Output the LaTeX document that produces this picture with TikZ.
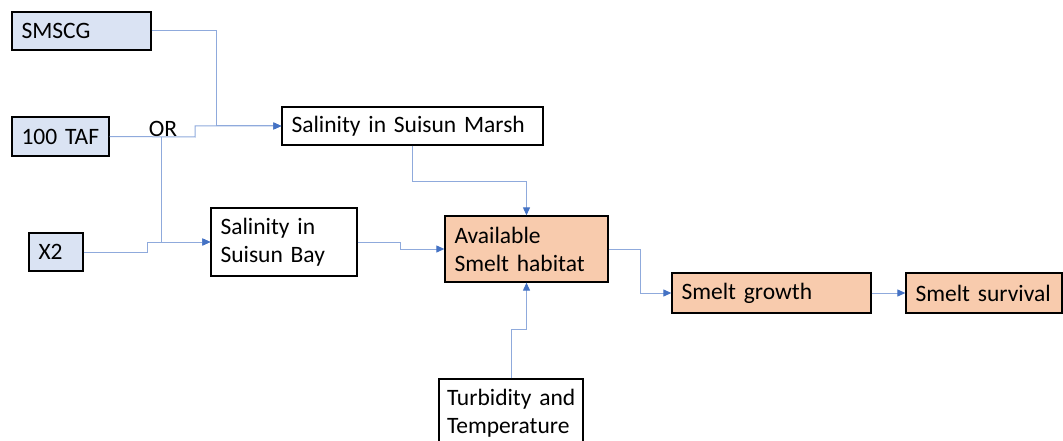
\documentclass[tikz,border=0pt]{standalone}
\usepackage{fontspec}
\setmainfont{Carlito}
\usetikzlibrary{arrows.meta}
\definecolor{bluefill}{HTML}{DAE3F3}
\definecolor{orangefill}{HTML}{F8CBAD}
\definecolor{linkline}{HTML}{8FAADC}
\definecolor{linktip}{HTML}{4472C4}
\tikzset{
  box/.style={draw=black, line width=1.3pt, inner xsep=9.5pt, inner ysep=0pt,
    align=left, font=\fontsize{23.5}{28}\selectfont, anchor=center},
  inbox/.style={box, fill=bluefill},
  outbox/.style={box, fill=orangefill},
  plainbox/.style={box, fill=white},
  link/.style={draw=linkline, line width=1pt,
    -{Triangle[length=8pt,width=7pt,color=linktip]}},
  plainlink/.style={draw=linkline, line width=1pt},
  lbl/.style={inner sep=0pt, font=\fontsize{23.5}{28}\selectfont}
}
\begin{document}
\begin{tikzpicture}[x=1pt,y=-1pt]
\useasboundingbox (0,0) rectangle (1063,441);
\clip (0,0) rectangle (1063,441);
% nodes
\node[inbox, minimum width=139pt, minimum height=38pt, text width=120pt] (smscg) at (81.5,31) {\mbox{SMSCG}};
\node[inbox, minimum width=97pt, minimum height=39pt, text width=78pt] (taf) at (60.5,136.5) {\mbox{100 TAF}};
\node[inbox, minimum width=54pt, minimum height=38pt, text width=35pt] (x2) at (56,252) {\mbox{X2}};
\node[plainbox, minimum width=146pt, minimum height=68pt, text width=127pt] (bay) at (284,242) {Salinity in\\Suisun Bay};
\node[plainbox, minimum width=261pt, minimum height=38pt, text width=242pt] (marsh) at (412.5,126) {\mbox{Salinity in Suisun Marsh}};
\node[outbox, minimum width=163pt, minimum height=66pt, text width=144pt] (hab) at (526.5,249) {Available\\Smelt habitat};
\node[outbox, minimum width=199pt, minimum height=40pt, text width=180pt] (growth) at (771.5,293) {\mbox{Smelt growth}};
\node[outbox, minimum width=156pt, minimum height=40pt, text width=137pt] (survival) at (984,293) {\mbox{Smelt survival}};
\node[plainbox, inner xsep=8pt, minimum width=144pt, minimum height=68pt, text width=128pt] (turb) at (511,413) {\mbox{Turbidity and}\\\mbox{Temperature}};
\node[lbl] (or) at (163,128.5) {OR};
% connectors
\coordinate (orbranch) at (161,137);
\draw[link] (smscg.east) -| (216,126) -- (marsh.west);
\draw[link] (taf.east) -- (195,137) |- (marsh.west);
\draw[link] (orbranch) |- (bay.west);
\draw[link] (x2.east) -| (147,242) -- (bay.west);
\draw[link] (bay.east) -| (400,249) -- (hab.west);
\draw[link] (marsh.south) -- ++(0,36) -| (hab.north);
\draw[link] (turb.north) -- ++(0,-49) -| (hab.south);
\draw[link] (hab.east) -| (640,293) -- (growth.west);
\draw[link] (growth.east) -- (survival.west);
\end{tikzpicture}
\end{document}
